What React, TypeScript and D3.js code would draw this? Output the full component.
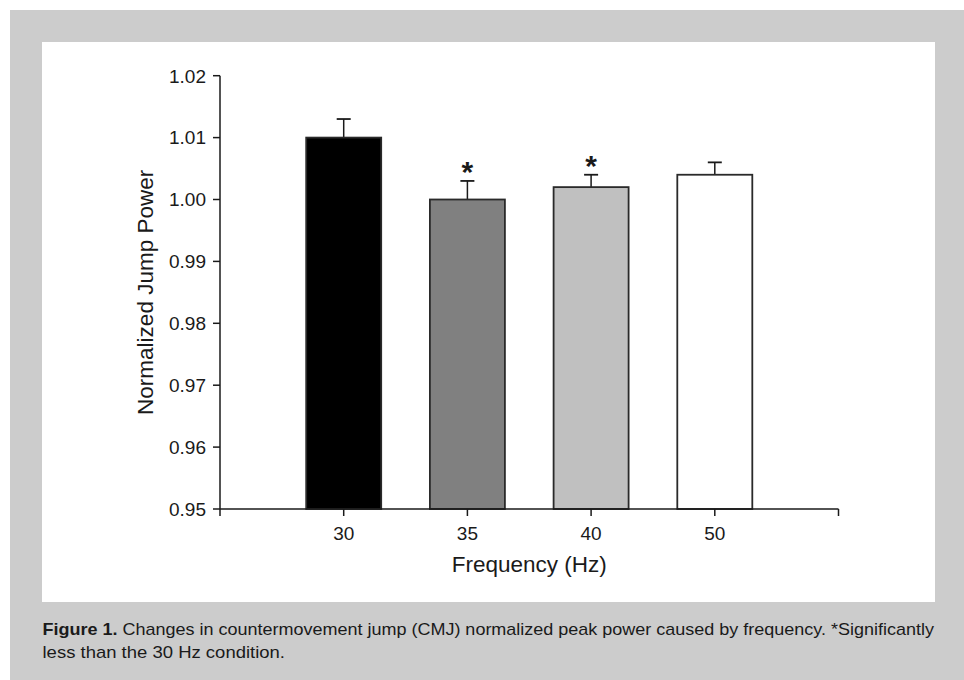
import React, { useEffect } from "react";
import * as d3 from "d3";

const categories = ["30", "35", "40", "50"];
const means = [1.01, 1.0, 1.002, 1.004];
const errTops = [1.013, 1.003, 1.004, 1.006];
const significant = [false, true, true, false];
const fills = ["#000000", "#808080", "#c0c0c0", "#ffffff"];
const yTicks = [0.95, 0.96, 0.97, 0.98, 0.99, 1.0, 1.01, 1.02];
const xTickPositions = [0, 1, 2, 3, 4, 5];

const yLabel = "Normalized Jump Power";
const xLabel = "Frequency (Hz)";
const captionBold = "Figure 1.";
const captionLine1 = " Changes in countermovement jump (CMJ) normalized peak power caused by frequency. *Significantly";
const captionLine2 = "less than the 30 Hz condition.";

const W = 964;
const H = 680;
const FONT = "'Liberation Sans', Arial, Helvetica, sans-serif";
const TEXT = "#1a1a1a";
const AXIS = "#1a1a1a";

export default function App() {
  useEffect(() => {
    document.body.style.margin = "0";
  }, []);

  const x = d3.scaleLinear().domain([0, 5]).range([220, 838.5]);
  const y = d3.scaleLinear().domain([0.95, 1.02]).range([509, 75.7]);
  const barW = 75;
  const capW = 14;
  const x0 = x(0);
  const y0 = y(0.95);

  return (
    <svg width={W} height={H} style={{ display: "block" }} fontFamily={FONT}>
      <rect x={0} y={0} width={W} height={H} fill="#ffffff" />
      <rect x={10} y={10} width={W - 10} height={H - 10} fill="#cccccc" />
      <rect x={42} y={42} width={935 - 42} height={602 - 42} fill="#ffffff" />

      {/* bars */}
      {categories.map((c, i) => {
        const cx = x(i + 1);
        return (
          <g key={c}>
            <line x1={cx} x2={cx} y1={y(means[i])} y2={y(errTops[i])} stroke={AXIS} strokeWidth={1.5} />
            <line x1={cx - capW / 2} x2={cx + capW / 2} y1={y(errTops[i])} y2={y(errTops[i])} stroke={AXIS} strokeWidth={1.8} />
            <rect
              x={cx - barW / 2}
              y={y(means[i])}
              width={barW}
              height={y0 - y(means[i])}
              fill={fills[i]}
              stroke="#2a2a2a"
              strokeWidth={1.8}
            />
            {significant[i] && (
              <text x={cx} y={y(errTops[i]) + 1} textAnchor="middle" fontSize={30} fontWeight="bold" fill={TEXT}>
                *
              </text>
            )}
          </g>
        );
      })}

      {/* y axis */}
      <line x1={x0} x2={x0} y1={y(1.02)} y2={y0} stroke={AXIS} strokeWidth={1.5} />
      {yTicks.map((t) => (
        <g key={t}>
          <line x1={x0 - 7} x2={x0} y1={y(t)} y2={y(t)} stroke={AXIS} strokeWidth={1.5} />
          <text x={x0 - 14} y={y(t)} dy="0.36em" textAnchor="end" fontSize={19} fill={TEXT}>
            {t.toFixed(2)}
          </text>
        </g>
      ))}

      {/* x axis */}
      <line x1={x0} x2={x(5)} y1={y0} y2={y0} stroke={AXIS} strokeWidth={1.5} />
      {xTickPositions.map((p) => (
        <line key={p} x1={x(p)} x2={x(p)} y1={y0} y2={y0 + 7} stroke={AXIS} strokeWidth={1.5} />
      ))}
      {categories.map((c, i) => (
        <text key={c} x={x(i + 1)} y={y0 + 31} textAnchor="middle" fontSize={19} fill={TEXT}>
          {c}
        </text>
      ))}

      <text x={(x0 + x(5)) / 2} y={572} textAnchor="middle" fontSize={22.5} fill={TEXT}>
        {xLabel}
      </text>
      <text
        transform={`translate(153, ${(y(1.02) + y0) / 2}) rotate(-90)`}
        textAnchor="middle"
        fontSize={22.5}
        fill={TEXT}
      >
        {yLabel}
      </text>

      {/* caption */}
      <text x={42.5} y={635} fontSize={17} fill={TEXT} textLength={934 - 42.5} lengthAdjust="spacingAndGlyphs">
        <tspan fontWeight="bold">{captionBold}</tspan>
        {captionLine1}
      </text>
      <text x={42.5} y={658} fontSize={17} fill={TEXT} textLength={285 - 42.5} lengthAdjust="spacingAndGlyphs">
        {captionLine2}
      </text>
    </svg>
  );
}
